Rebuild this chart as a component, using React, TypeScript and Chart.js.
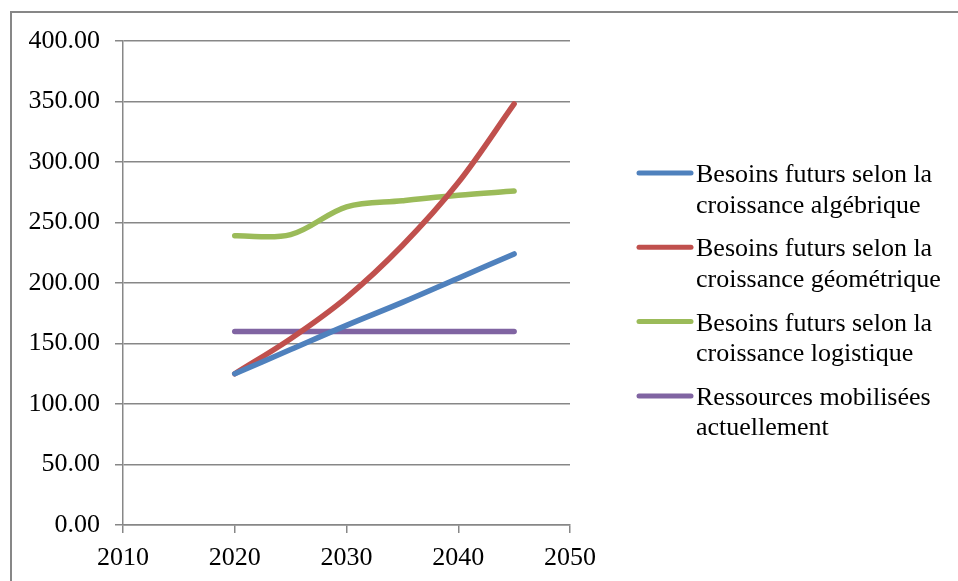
import { useEffect, useRef } from 'react';
import { Chart, registerables } from 'chart.js';

Chart.register(...registerables);

// Projection years and the needs/resources series (same units on the y axis)
const years = [2020, 2025, 2030, 2035, 2040, 2045];
const algebraicNeeds = [125, 145, 165, 184, 204, 224];
const geometricNeeds = [125, 154, 188, 231, 283, 348];
const logisticNeeds = [239, 240, 263, 268, 272.5, 276];
const currentResources = [160, 160, 160, 160, 160, 160];

const seriesNames = [
  'Besoins futurs selon la croissance algébrique',
  'Besoins futurs selon la croissance géométrique',
  'Besoins futurs selon la croissance logistique',
  'Ressources mobilisées actuellement',
];
const seriesColors = ['#4F81BD', '#C0504D', '#9BBB59', '#8064A2'];

const xMin = 2010;
const xMax = 2050;
const xStep = 10;
const yMin = 0;
const yMax = 400;
const yStep = 50;

const FONT = '"Liberation Serif", "Times New Roman", serif';
const AXIS_GREY = '#878787';

function toPoints(values: number[]) {
  return years.map((x, i) => ({ x, y: values[i] }));
}

function wrapText(ctx: CanvasRenderingContext2D, text: string, maxWidth: number) {
  const words = text.split(' ');
  const lines: string[] = [];
  let current = '';
  for (const w of words) {
    const trial = current ? current + ' ' + w : w;
    if (current && ctx.measureText(trial).width > maxWidth) {
      lines.push(current);
      current = w;
    } else {
      current = trial;
    }
  }
  if (current) lines.push(current);
  return lines;
}

// White page with the grey chart frame
const framePlugin = {
  id: 'frame',
  beforeDraw(chart: any) {
    const { ctx, width, height } = chart;
    ctx.save();
    ctx.fillStyle = '#fff';
    ctx.fillRect(0, 0, width, height);
    ctx.strokeStyle = AXIS_GREY;
    ctx.lineWidth = 2;
    ctx.strokeRect(11, 12, width + 20, height + 20);
    ctx.restore();
  },
};

// Legend on the right with wrapped series names
const sideLegendPlugin = {
  id: 'sideLegend',
  afterDraw(chart: any) {
    const { ctx, chartArea } = chart;
    const sampleLeft = chartArea.right + 69;
    const sampleRight = sampleLeft + 52;
    const textLeft = sampleLeft + 57;
    const firstBaseline = 182;
    const entryStep = 74.3;
    const lineStep = 30.5;
    ctx.save();
    ctx.font = `26px ${FONT}`;
    ctx.textBaseline = 'alphabetic';
    ctx.textAlign = 'left';
    chart.data.datasets.forEach((ds: any, i: number) => {
      const base = firstBaseline + i * entryStep;
      ctx.strokeStyle = ds.borderColor;
      ctx.lineWidth = 5;
      ctx.lineCap = 'round';
      ctx.beginPath();
      ctx.moveTo(sampleLeft, base - 9);
      ctx.lineTo(sampleRight, base - 9);
      ctx.stroke();
      ctx.fillStyle = '#000';
      wrapText(ctx, ds.label, 262).forEach((line, j) => {
        ctx.fillText(line, textLeft, base + j * lineStep);
      });
    });
    ctx.restore();
  },
};

export default function App() {
  const canvasRef = useRef<HTMLCanvasElement | null>(null);

  useEffect(() => {
    if (!canvasRef.current) return;
    const seriesValues = [algebraicNeeds, geometricNeeds, logisticNeeds, currentResources];
    const chart = new Chart(canvasRef.current, {
      type: 'line',
      data: {
        datasets: seriesValues.map((values, i) => ({
          label: seriesNames[i],
          data: toPoints(values),
          borderColor: seriesColors[i],
          backgroundColor: seriesColors[i],
          borderWidth: 5.5,
          borderCapStyle: 'round',
          borderJoinStyle: 'round',
          pointRadius: 0,
          tension: 0.35,
          fill: false,
        })),
      },
      options: {
        animation: false,
        responsive: true,
        maintainAspectRatio: false,
        layout: { padding: { top: 41, right: 388, left: 0, bottom: 0 } },
        plugins: {
          legend: { display: false },
          tooltip: { enabled: false },
        },
        scales: {
          x: {
            type: 'linear',
            min: xMin,
            max: xMax,
            ticks: {
              stepSize: xStep,
              callback: (v: any) => String(v),
              color: '#000',
              font: { family: FONT, size: 26 },
              padding: 10,
              maxRotation: 0,
            },
            grid: {
              drawOnChartArea: false,
              drawTicks: true,
              tickLength: 8,
              color: AXIS_GREY,
              lineWidth: 1.5,
            },
            border: { display: true, color: AXIS_GREY, width: 1.5 },
            afterFit: (scale: any) => {
              scale.height = 56;
            },
          },
          y: {
            min: yMin,
            max: yMax,
            ticks: {
              stepSize: yStep,
              callback: (v: any) => Number(v).toFixed(2),
              color: '#000',
              font: { family: FONT, size: 26 },
              padding: 15,
            },
            grid: {
              color: AXIS_GREY,
              lineWidth: 1.5,
              tickLength: 8,
            },
            border: { display: true, color: AXIS_GREY, width: 1.5 },
            afterFit: (scale: any) => {
              scale.width = 123;
            },
          },
        },
      },
      plugins: [framePlugin, sideLegendPlugin],
    } as any);
    return () => chart.destroy();
  }, []);

  return (
    <div style={{ position: 'fixed', left: 0, top: 0, width: 958, height: 581 }}>
      <canvas ref={canvasRef} />
    </div>
  );
}
